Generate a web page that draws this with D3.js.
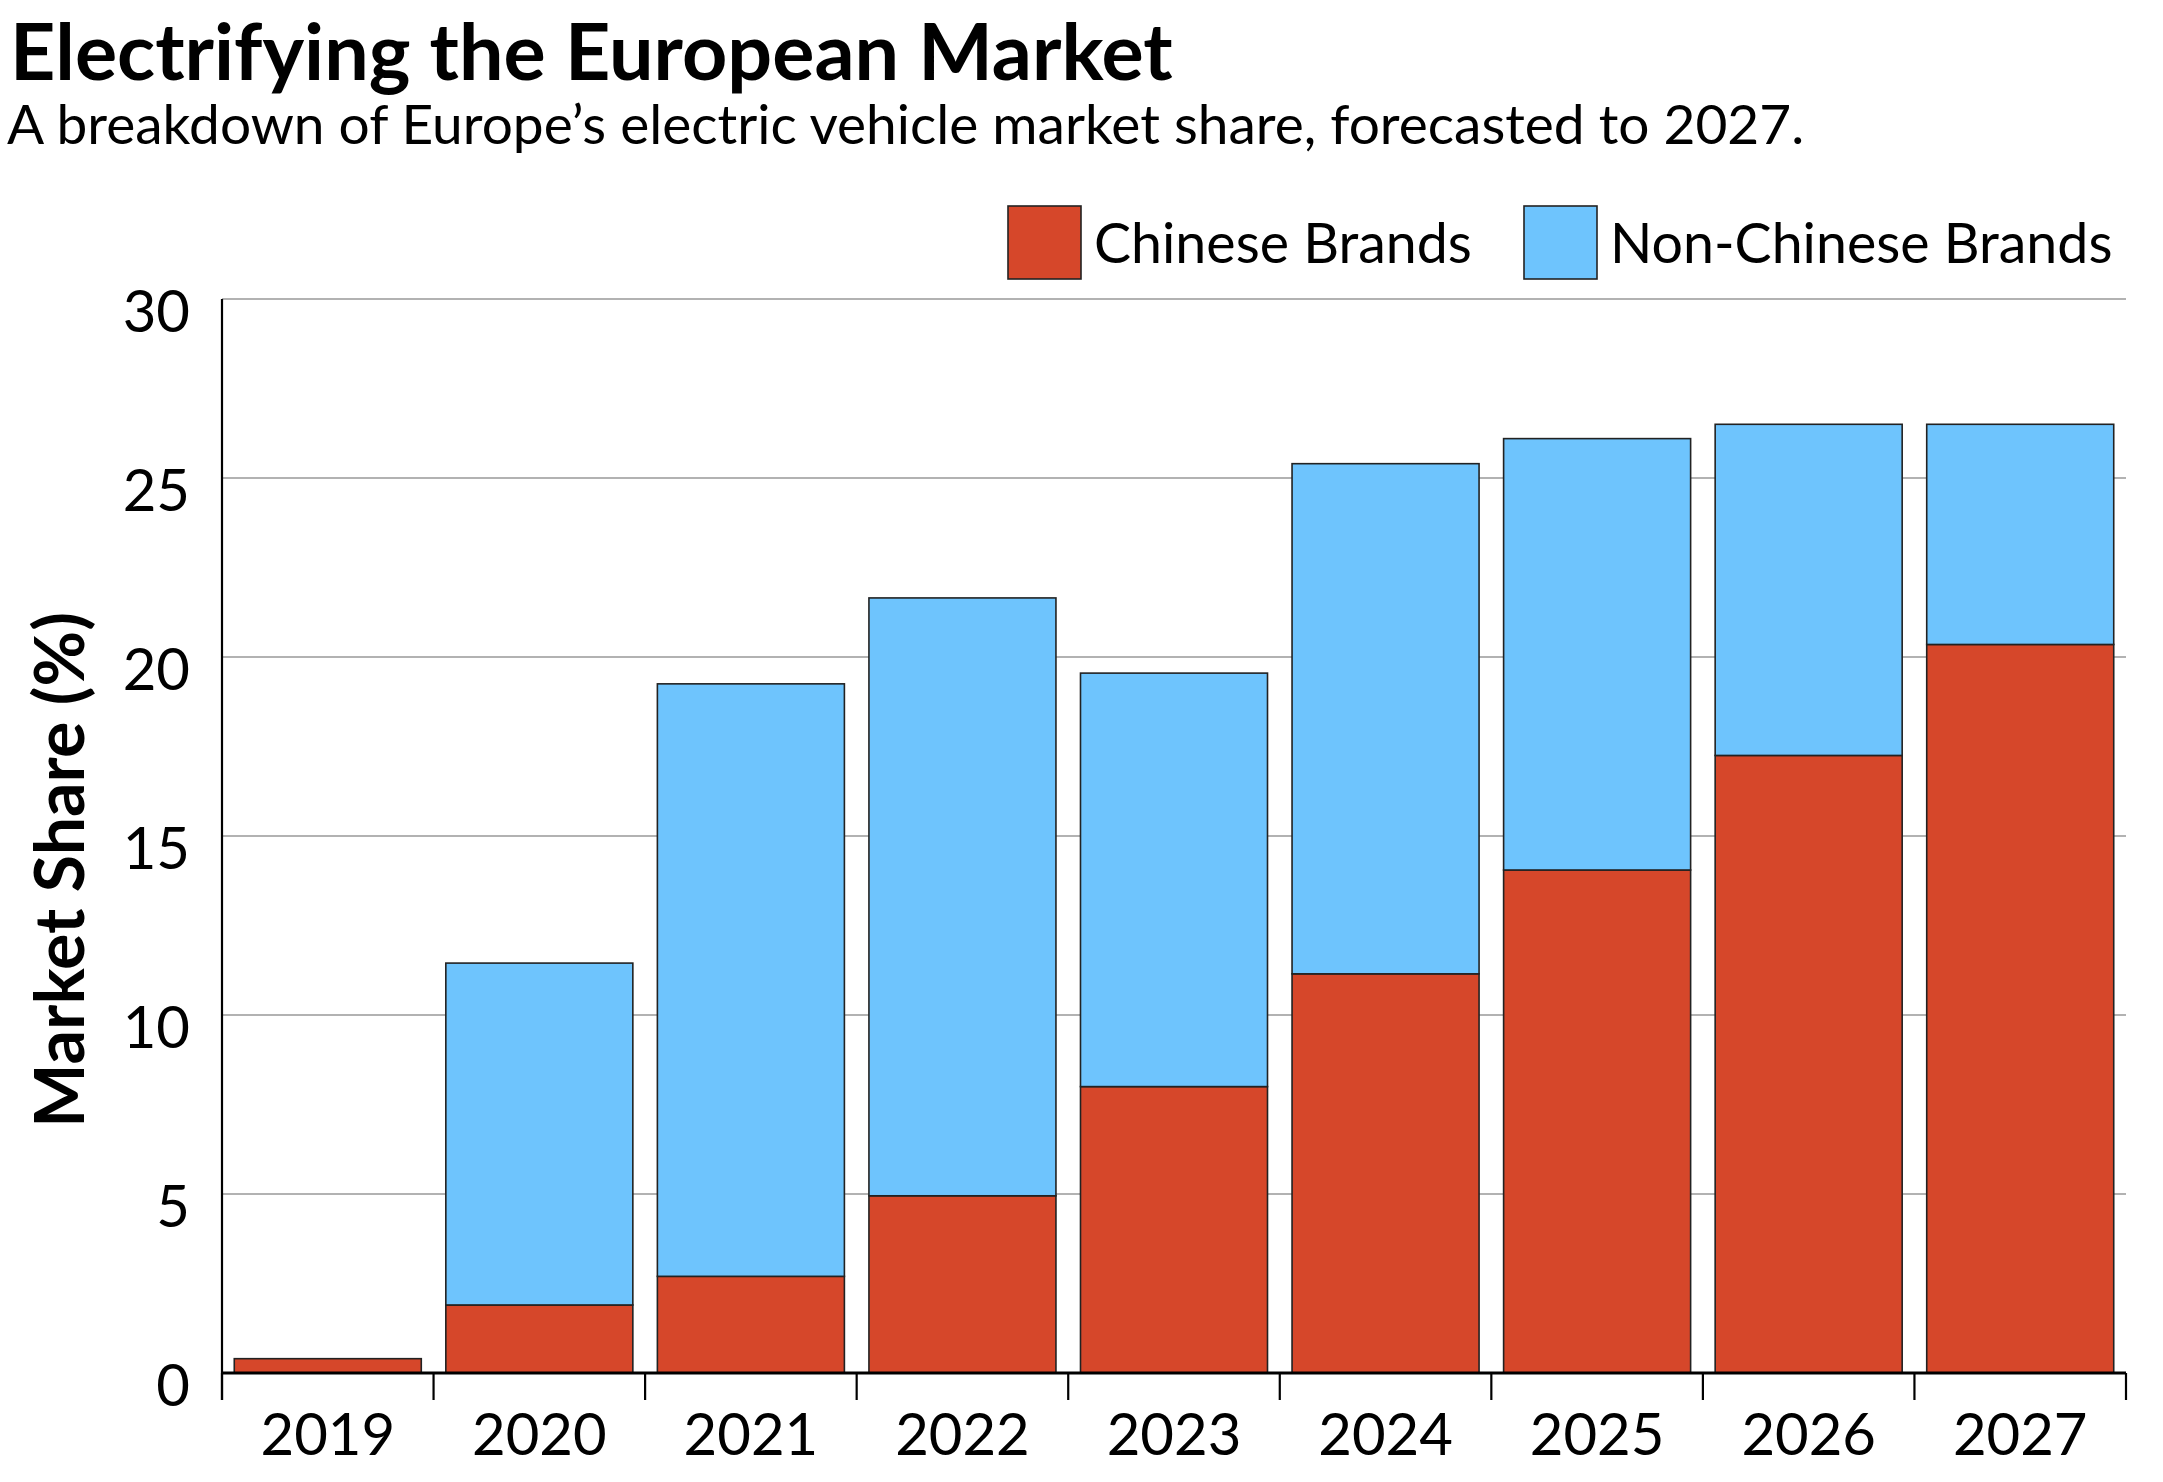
<!DOCTYPE html>
<html><head><meta charset="utf-8">
<script src="https://cdn.jsdelivr.net/npm/d3@7"></script>
<style>
body{margin:0;background:#fff}
svg{display:block}
text{font-family:Lato,"Noto Sans",sans-serif;fill:#000}
</style>
</head><body>
<svg id="c" width="2163" height="1482"></svg>
<script>
// ---- data ----
const years = ["2019","2020","2021","2022","2023","2024","2025","2026","2027"];
const chineseBrands = [0.4, 1.9, 2.7, 4.95, 8.0, 11.15, 14.05, 17.25, 20.35];
const nonChineseBrands = [0, 9.55, 16.55, 16.7, 11.55, 14.25, 12.05, 9.25, 6.15];
const seriesNames = ["Chinese Brands", "Non-Chinese Brands"];
const seriesColors = ["#D6472A", "#6EC4FD"];
const yTicks = [0, 5, 10, 15, 20, 25, 30];
const titleText = "Electrifying the European Market";
const subtitleText = "A breakdown of Europe\u2019s electric vehicle market share, forecasted to 2027.";
const yLabelText = "Market Share (%)";

// ---- layout ----
const svg = d3.select("#c");
const plotL = 222, plotR = 2126, plotT = 299, plotB = 1373;

const rows = years.map((yr, i) => ({year: yr, [seriesNames[0]]: chineseBrands[i], [seriesNames[1]]: nonChineseBrands[i]}));
const stacked = d3.stack().keys(seriesNames)(rows);

const x = d3.scaleBand().domain(years).range([plotL, plotR]).paddingInner(0.116).paddingOuter(0.058);
const y = d3.scaleLinear().domain([0, 30]).range([plotB, plotT]);
const color = d3.scaleOrdinal().domain(seriesNames).range(seriesColors);

// title
svg.append("text").attr("x", 10).attr("y", 80)
  .style("font-size", "79px").style("font-weight", 700).text(titleText);
svg.append("text").attr("x", 7).attr("y", 144)
  .style("font-size", "55px").style("font-weight", 400).text(subtitleText);

// gridlines
svg.append("g").selectAll("line").data(yTicks.filter(d => d > 0)).join("line")
  .attr("x1", plotL).attr("x2", plotR)
  .attr("y1", d => y(d)).attr("y2", d => y(d))
  .attr("stroke", "#999").attr("stroke-width", 1.6);

// y tick labels
const yAxis = svg.append("g").attr("transform", `translate(${plotL},0)`)
  .call(d3.axisLeft(y).tickValues(yTicks).tickSize(0).tickPadding(32));
yAxis.select(".domain").remove();
yAxis.selectAll("text").attr("dy", null).attr("y", 32)
  .style("font-size", "58px").style("font-family", "Lato").attr("fill", "#000");

// bars
svg.append("g").selectAll("g").data(stacked).join("g")
  .attr("fill", d => color(d.key))
  .selectAll("rect").data(d => d.filter(s => s[1] - s[0] > 0)).join("rect")
  .attr("x", d => x(d.data.year))
  .attr("width", x.bandwidth())
  .attr("y", d => y(d[1]))
  .attr("height", d => y(d[0]) - y(d[1]))
  .attr("stroke", "#222").attr("stroke-width", 1.6);

// x axis line and boundary ticks
svg.append("line").attr("x1", plotL).attr("x2", plotR).attr("y1", plotB).attr("y2", plotB)
  .attr("stroke", "#000").attr("stroke-width", 3);
svg.append("line").attr("x1", plotL).attr("x2", plotL).attr("y1", plotT).attr("y2", plotB + 27)
  .attr("stroke", "#000").attr("stroke-width", 2.2);
const bounds = d3.range(years.length + 1).map(i => plotL + i * x.step());
svg.append("g").selectAll("line").data(bounds).join("line")
  .attr("x1", d => d).attr("x2", d => d).attr("y1", plotB).attr("y2", plotB + 27)
  .attr("stroke", "#000").attr("stroke-width", 2.2);

// x labels
const xAxis = svg.append("g").attr("transform", `translate(0,${plotB})`)
  .call(d3.axisBottom(x).tickSize(0).tickPadding(0));
xAxis.select(".domain").remove();
xAxis.selectAll("text").attr("dy", null).attr("y", 82)
  .style("font-size", "58px").style("font-family", "Lato").attr("fill", "#000");

// y label
svg.append("text").attr("transform", `translate(84,870) rotate(-90)`)
  .attr("text-anchor", "middle")
  .style("font-size", "68px").style("font-weight", 700).text(yLabelText);

// legend
const legendX = [1008, 1524];
const lg = svg.append("g").selectAll("g").data(seriesNames).join("g")
  .attr("transform", (d, i) => `translate(${legendX[i]},206)`);
lg.append("rect").attr("width", 73).attr("height", 73)
  .attr("fill", d => color(d)).attr("stroke", "#222").attr("stroke-width", 1.6);
lg.append("text").attr("x", 86).attr("y", 57)
  .style("font-size", "55.5px").text(d => d);
</script>
</body></html>
